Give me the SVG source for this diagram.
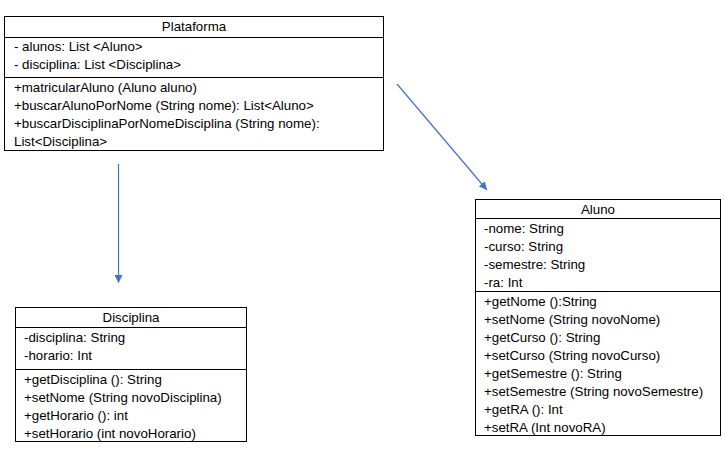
<svg xmlns="http://www.w3.org/2000/svg" width="725" height="450" viewBox="0 0 725 450">
<defs>
<style>
.box{fill:#fff;stroke:#000;stroke-width:1}
.div{stroke:#000;stroke-width:1}
text{font-family:"Liberation Sans",Arial,sans-serif;font-size:13.3px;fill:#000}
.t{text-anchor:middle}
.conn{stroke:#4472C4;stroke-width:1.2;fill:none}
</style>
<marker id="arr" viewBox="0 0 10 10" refX="10" refY="5" markerWidth="8" markerHeight="8" markerUnits="userSpaceOnUse" orient="auto">
<path d="M0,0 L10,5 L0,10 z" fill="#4472C4"/>
</marker>
</defs>
<rect width="725" height="450" fill="#fff"/>
<g id="connectors">
<line class="conn" x1="118.5" y1="164" x2="118.5" y2="283" marker-end="url(#arr)"/>
<line class="conn" x1="397" y1="84" x2="487" y2="190" marker-end="url(#arr)"/>
</g>
<g id="plataforma">
<rect class="box" x="4.5" y="16.5" width="379" height="134"/>
<line class="div" x1="4.5" y1="37.5" x2="383.5" y2="37.5"/>
<line class="div" x1="4.5" y1="77.5" x2="383.5" y2="77.5"/>
<text class="t" x="194" y="31">Plataforma</text>
<text x="14" y="51">- alunos: List &lt;Aluno&gt;</text>
<text x="14" y="69">- disciplina: List &lt;Disciplina&gt;</text>
<text x="14" y="92">+matricularAluno (Aluno aluno)</text>
<text x="14" y="110">+buscarAlunoPorNome (String nome): List&lt;Aluno&gt;</text>
<text x="14" y="128">+buscarDisciplinaPorNomeDisciplina (String nome):</text>
<text x="14" y="146">List&lt;Disciplina&gt;</text>
</g>
<g id="aluno">
<rect class="box" x="475.5" y="199.5" width="245" height="236"/>
<line class="div" x1="475.5" y1="218.5" x2="720.5" y2="218.5"/>
<line class="div" x1="475.5" y1="291.5" x2="720.5" y2="291.5"/>
<text class="t" x="598" y="214">Aluno</text>
<text x="484" y="233">-nome: String</text>
<text x="484" y="251">-curso: String</text>
<text x="484" y="269">-semestre: String</text>
<text x="484" y="287">-ra: Int</text>
<text x="484" y="306">+getNome ():String</text>
<text x="484" y="324">+setNome (String novoNome)</text>
<text x="484" y="342">+getCurso (): String</text>
<text x="484" y="360">+setCurso (String novoCurso)</text>
<text x="484" y="378">+getSemestre (): String</text>
<text x="484" y="396">+setSemestre (String novoSemestre)</text>
<text x="484" y="414">+getRA (): Int</text>
<text x="484" y="432">+setRA (Int novoRA)</text>
</g>
<g id="disciplina">
<rect class="box" x="15.5" y="307.5" width="231" height="134"/>
<line class="div" x1="15.5" y1="327.5" x2="246.5" y2="327.5"/>
<line class="div" x1="15.5" y1="369.5" x2="246.5" y2="369.5"/>
<text class="t" x="131" y="322">Disciplina</text>
<text x="24" y="342">-disciplina: String</text>
<text x="24" y="360">-horario: Int</text>
<text x="24" y="384">+getDisciplina (): String</text>
<text x="24" y="402">+setNome (String novoDisciplina)</text>
<text x="24" y="420">+getHorario (): int</text>
<text x="24" y="438">+setHorario (int novoHorario)</text>
</g>
</svg>
